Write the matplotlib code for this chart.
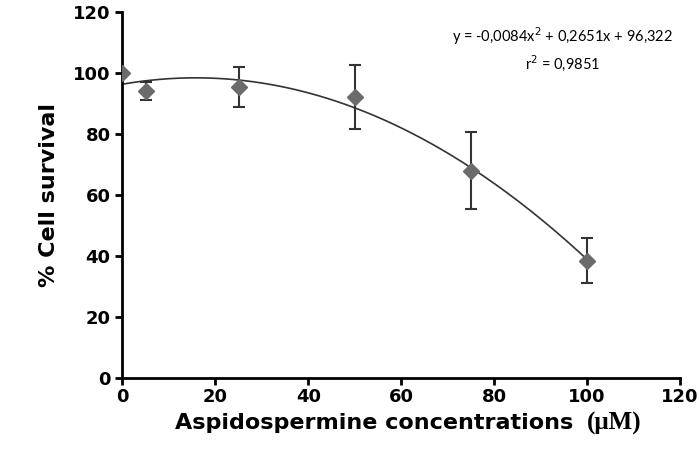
import numpy as np
from matplotlib import pyplot as plt

# data
conc = [0, 5, 25, 50, 75, 100]
survival = [100, 94, 95.5, 92, 68, 38.5]
err = [0, 3, 6.5, 10.5, 12.5, 7.5]
# trendline coefficients printed on the chart
coef = [-0.0084, 0.2651, 96.322]

fig = plt.figure(figsize=(6.99, 4.62), dpi=100)
ax = fig.add_axes([0.175, 0.182, 0.798, 0.792])

xf = np.linspace(0, 100, 200)
ax.plot(xf, np.polyval(coef, xf), color='#333333', lw=1.2, zorder=2)
ax.errorbar(conc, survival, yerr=err, fmt='D', color='#6b6b6b', ms=8,
            ecolor='#333333', elinewidth=1.5, capsize=4, capthick=1.5, zorder=3)

ax.set_xlim(0, 120)
ax.set_ylim(0, 120)
ax.set_xticks(range(0, 121, 20))
ax.set_yticks(range(0, 121, 20))
for s in ['top', 'right']:
    ax.spines[s].set_visible(False)
for s in ['left', 'bottom']:
    ax.spines[s].set_linewidth(2)
ax.tick_params(direction='out', width=2, length=5, labelsize=13)
ax.tick_params(axis='x', pad=2)
for lab in ax.get_xticklabels() + ax.get_yticklabels():
    lab.set_fontweight('bold')

ax.set_ylabel('% Cell survival', fontsize=16, fontweight='bold', labelpad=10)
# x label drawn by hand so the unit can use a different font
ax.text(0.452, -0.14, 'Aspidospermine concentrations', transform=ax.transAxes,
        ha='center', va='baseline', fontsize=16, fontweight='bold')
ax.text(0.833, -0.14, '(μM)', transform=ax.transAxes, ha='left', va='baseline',
        fontsize=18, fontweight='bold', family='Liberation Serif')

ax.text(0.789, 0.965, 'y = -0,0084x$^2$ + 0,2651x + 96,322\nr$^2$ = 0,9851',
        transform=ax.transAxes, ha='center', va='top', fontsize=10.5,
        linespacing=1.4, family='Lato')

fig.savefig('out.png', dpi=100)
